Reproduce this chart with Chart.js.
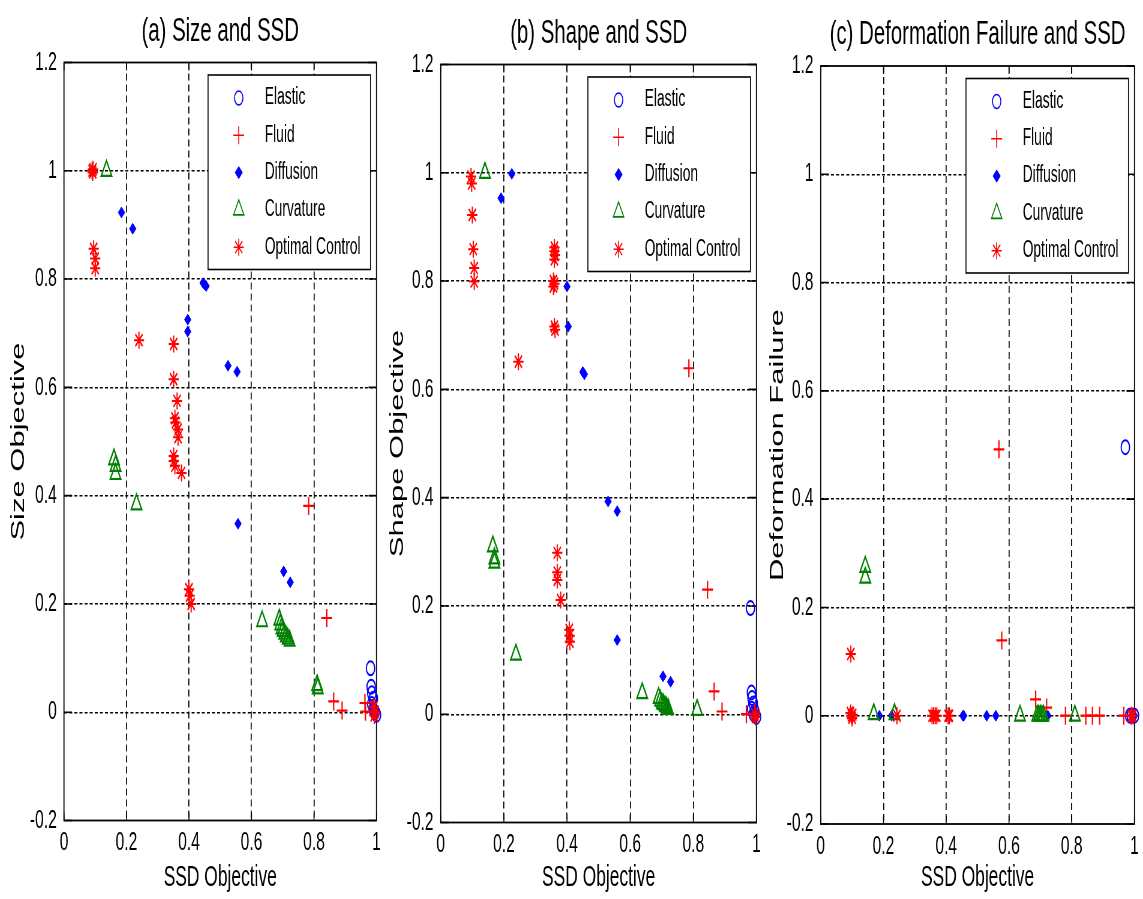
<!DOCTYPE html>
<html>
<head>
<meta charset="utf-8">
<script src="https://cdn.jsdelivr.net/npm/chart.js"></script>
<style>
  html, body { margin: 0; padding: 0; background: #fff; }
  body { width: 1143px; height: 899px; position: relative; overflow: hidden; }
  canvas { position: absolute; top: 0; }
</style>
</head>
<body>
<canvas id="chartA"></canvas>
<canvas id="chartB"></canvas>
<canvas id="chartC"></canvas>
<script>
// points are [SSD objective, other objective]
const sizeElastic = [[0.981,0.081],[0.983,0.047],[0.985,0.035],[0.99,0.025],[0.985,0.015],[0.99,0.005],[0.995,0.0],[1.0,-0.005]];
const sizeFluid = [[0.783,0.381],[0.841,0.174],[0.863,0.02],[0.89,0.003],[0.963,0.017],[0.965,0.001],[0.99,0.008],[0.995,0.0]];
const sizeDiffusion = [[0.184,0.923],[0.22,0.893],[0.396,0.725],[0.396,0.703],[0.445,0.793],[0.45,0.79],[0.455,0.787],[0.525,0.64],[0.554,0.629],[0.557,0.348],[0.703,0.26],[0.724,0.24],[0.985,0.01],[0.99,0.0],[0.995,-0.005],[1.0,0.005]];
const sizeCurvature = [[0.136,1.0],[0.16,0.467],[0.165,0.455],[0.165,0.44],[0.232,0.384],[0.634,0.168],[0.689,0.171],[0.692,0.162],[0.696,0.155],[0.70,0.15],[0.705,0.145],[0.71,0.14],[0.716,0.136],[0.722,0.132],[0.81,0.05],[0.812,0.044]];
const sizeOptimal = [[0.09,1.0],[0.093,1.003],[0.092,0.997],[0.095,0.856],[0.1,0.838],[0.1,0.82],[0.24,0.687],[0.351,0.68],[0.351,0.615],[0.362,0.575],[0.355,0.543],[0.357,0.535],[0.365,0.522],[0.365,0.508],[0.351,0.473],[0.351,0.464],[0.355,0.455],[0.376,0.442],[0.4,0.227],[0.402,0.215],[0.407,0.2],[0.992,0.01],[0.995,0.0],[0.993,-0.006]];

const shapeElastic = [[0.981,0.196],[0.984,0.04],[0.986,0.03],[0.99,0.02],[0.985,0.01],[0.99,0.0],[0.995,0.005],[1.0,-0.005]];
const shapeFluid = [[0.786,0.639],[0.845,0.23],[0.866,0.042],[0.891,0.005],[0.968,0.0],[0.99,0.0],[0.995,0.003]];
const shapeDiffusion = [[0.191,0.953],[0.225,0.998],[0.4,0.79],[0.404,0.716],[0.45,0.632],[0.455,0.628],[0.53,0.393],[0.559,0.375],[0.559,0.137],[0.704,0.07],[0.728,0.06],[0.99,0.005],[1.0,0.0],[0.995,-0.008]];
const shapeCurvature = [[0.14,1.0],[0.165,0.31],[0.17,0.288],[0.17,0.28],[0.238,0.11],[0.638,0.039],[0.69,0.03],[0.695,0.025],[0.70,0.02],[0.705,0.018],[0.71,0.015],[0.715,0.012],[0.72,0.01],[0.812,0.008]];
const shapeOptimal = [[0.096,0.993],[0.098,0.98],[0.1,0.922],[0.103,0.859],[0.106,0.824],[0.106,0.799],[0.246,0.651],[0.36,0.862],[0.36,0.855],[0.362,0.848],[0.36,0.84],[0.357,0.8],[0.36,0.795],[0.357,0.79],[0.36,0.716],[0.362,0.71],[0.369,0.298],[0.369,0.262],[0.369,0.248],[0.38,0.211],[0.407,0.156],[0.408,0.145],[0.409,0.134],[0.995,0.0],[0.997,-0.005]];

const deformElastic = [[0.971,0.496],[0.985,0.0],[0.99,0.0],[1.0,0.0]];
const deformFluid = [[0.568,0.492],[0.577,0.139],[0.685,0.03],[0.72,0.015],[0.78,0],[0.845,0],[0.866,0],[0.889,0],[0.966,0],[0.99,0]];
const deformDiffusion = [[0.187,0],[0.226,0],[0.453,0],[0.456,0],[0.529,0],[0.558,0],[0.724,0],[0.99,0],[1.0,0]];
const deformCurvature = [[0.142,0.275],[0.142,0.255],[0.169,0.003],[0.235,0.003],[0.635,0],[0.69,0],[0.695,0],[0.70,0],[0.705,0],[0.71,0],[0.81,0]];
const deformOptimal = [[0.096,0.114],[0.095,0.005],[0.098,0.0],[0.1,-0.004],[0.102,0.002],[0.243,0],[0.355,0],[0.36,0],[0.365,0],[0.37,0],[0.406,0],[0.41,0],[0.99,0],[0.995,0]];

const seriesNames = ['Elastic', 'Fluid', 'Diffusion', 'Curvature', 'Optimal Control'];
const xTicks = [0, 0.2, 0.4, 0.6, 0.8, 1];
const yTicks = [-0.2, 0, 0.2, 0.4, 0.6, 0.8, 1, 1.2];

// the original figure is squeezed horizontally, so each canvas is drawn wide and shown narrow
const K = 0.6;
const H = 899;
const FONT = '"Liberation Sans", Arial, sans-serif';
Chart.defaults.font.family = FONT;

const markers = [
  { pointStyle: 'circle', radius: 7, color: '#0000ff', fill: 'rgba(0,0,0,0)', width: 2 },
  { pointStyle: 'cross', radius: 9, color: '#ff0000', fill: '#ff0000', width: 2.2 },
  { pointStyle: 'rectRot', radius: 5.5, color: '#0000ff', fill: '#0000ff', width: 1 },
  { pointStyle: 'triangle', radius: 10, color: '#008000', fill: 'rgba(0,0,0,0)', width: 2.2 },
  { pointStyle: 'star', radius: 8.5, color: '#ff0000', fill: '#ff0000', width: 2 },
];

const panels = [
  { id: 'chartA', title: '(a) Size and SSD', yTitle: 'Size Objective',
    series: [sizeElastic, sizeFluid, sizeDiffusion, sizeCurvature, sizeOptimal],
    left: 0, width: 385, plot: { l: 64, r: 377.7, t: 62.5, b: 820.5 } },
  { id: 'chartB', title: '(b) Shape and SSD', yTitle: 'Shape Objective',
    series: [shapeElastic, shapeFluid, shapeDiffusion, shapeCurvature, shapeOptimal],
    left: 379, width: 386, plot: { l: 440.7, r: 756.7, t: 64.5, b: 822.5 } },
  { id: 'chartC', title: '(c) Deformation Failure and SSD', yTitle: 'Deformation Failure',
    series: [deformElastic, deformFluid, deformDiffusion, deformCurvature, deformOptimal],
    left: 759, width: 384, plot: { l: 820.7, r: 1136.7, t: 66, b: 824 } },
];

const fmt = v => String(Math.round(v * 10) / 10);

const frame = {
  id: 'frame',
  beforeDatasetsDraw(chart) {
    const { ctx, chartArea: a, scales } = chart;
    ctx.save();
    ctx.strokeStyle = '#000';
    ctx.lineWidth = 1.6;
    ctx.setLineDash([]);
    ctx.beginPath();
    xTicks.forEach(v => {
      const px = scales.x.getPixelForValue(v);
      ctx.moveTo(px, a.top); ctx.lineTo(px, a.top + 8);
      ctx.moveTo(px, a.bottom); ctx.lineTo(px, a.bottom - 8);
    });
    yTicks.forEach(v => {
      const py = scales.y.getPixelForValue(v);
      ctx.moveTo(a.left, py); ctx.lineTo(a.left + 8 / K, py);
      ctx.moveTo(a.right, py); ctx.lineTo(a.right - 8 / K, py);
    });
    ctx.stroke();
    ctx.lineWidth = 1.8;
    ctx.strokeRect(a.left, a.top, a.right - a.left, a.bottom - a.top);
    ctx.restore();
  },
  afterDatasetsDraw(chart, args, opts) {
    const { ctx, chartArea: a } = chart;
    ctx.save();
    // legend box in the upper right of the plot
    const boxR = a.right - 6 / K;
    const boxL = boxR - 162.5 / K;
    const boxT = a.top + 12.5;
    ctx.fillStyle = '#fff';
    ctx.fillRect(boxL, boxT, boxR - boxL, 194.5);
    ctx.strokeStyle = '#000';
    ctx.lineWidth = 1.6;
    ctx.strokeRect(boxL, boxT, boxR - boxL, 194.5);
    seriesNames.forEach((name, i) => {
      const y = boxT + 23 + i * 37.3;
      const m = markers[i];
      ctx.strokeStyle = m.color;
      ctx.fillStyle = m.fill;
      Chart.helpers.drawPoint(ctx, { pointStyle: m.pointStyle, radius: m.radius, borderWidth: m.width, rotation: 0 }, boxL + 30.7 / K, y);
      ctx.fillStyle = '#000';
      ctx.font = '23px ' + FONT;
      ctx.textAlign = 'left';
      ctx.textBaseline = 'middle';
      ctx.fillText(name, boxL + 56.7 / K, y);
    });
    // panel title centred over the plot
    ctx.fillStyle = '#000';
    ctx.font = '34px ' + FONT;
    ctx.textAlign = 'center';
    ctx.textBaseline = 'middle';
    ctx.fillText(opts.text, (a.left + a.right) / 2, a.top - 31);
    ctx.restore();
  }
};

panels.forEach(p => {
  const canvas = document.getElementById(p.id);
  const W = Math.round(p.width / K);
  canvas.width = W;
  canvas.height = H;
  canvas.style.left = p.left + 'px';
  canvas.style.width = p.width + 'px';
  canvas.style.height = H + 'px';

  const yWidth = (p.plot.l - p.left) / K;
  const rightPad = W - (p.plot.r - p.left) / K;

  new Chart(canvas, {
    type: 'scatter',
    data: {
      datasets: p.series.map((pts, i) => ({
        label: seriesNames[i],
        data: pts.map(([x, y]) => ({ x, y })),
        pointStyle: markers[i].pointStyle,
        pointRadius: markers[i].radius,
        pointBorderColor: markers[i].color,
        pointBackgroundColor: markers[i].fill,
        pointBorderWidth: markers[i].width,
        clip: false,
        order: 5 - i,
      })),
    },
    options: {
      responsive: false,
      animation: false,
      events: [],
      layout: { padding: { top: p.plot.t, right: rightPad, bottom: 0, left: 0 } },
      plugins: {
        legend: { display: false },
        tooltip: { enabled: false },
        frame: { text: p.title },
      },
      scales: {
        x: {
          type: 'linear', min: 0, max: 1,
          afterBuildTicks: s => { s.ticks = xTicks.map(v => ({ value: v })); },
          afterFit: s => { s.height = H - p.plot.b; },
          ticks: { callback: fmt, color: '#000', font: { size: 26 }, padding: 7, maxRotation: 0, autoSkip: false },
          grid: {
            drawTicks: false, lineWidth: 1.7,
            color: c => (c.tick && c.tick.value > 0.001 && c.tick.value < 0.999) ? '#000' : 'rgba(0,0,0,0)',
          },
          border: { display: false, dash: [7, 4] },
          title: { display: true, text: 'SSD Objective', color: '#000', font: { size: 29 }, padding: { top: 0, bottom: 4 } },
        },
        y: {
          type: 'linear', min: -0.2, max: 1.2,
          afterBuildTicks: s => { s.ticks = yTicks.map(v => ({ value: v })); },
          afterFit: s => { s.width = yWidth; },
          ticks: { callback: fmt, color: '#000', font: { size: 26 }, padding: 12, autoSkip: false },
          grid: {
            drawTicks: false, lineWidth: 1.4,
            color: c => (c.tick && c.tick.value > -0.199 && c.tick.value < 1.199) ? '#000' : 'rgba(0,0,0,0)',
          },
          border: { display: false, dash: [5, 3.5] },
          title: { display: true, text: p.yTitle, color: '#000', font: { size: 31 }, padding: { top: 13, bottom: 0 } },
        },
      },
    },
    plugins: [frame],
  });
});
</script>
</body>
</html>
